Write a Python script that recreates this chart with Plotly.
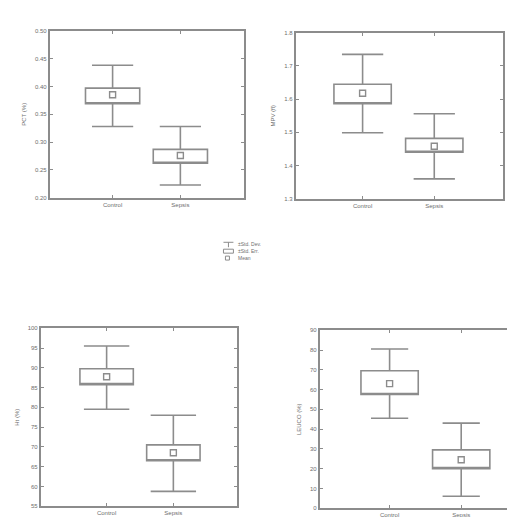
import plotly.graph_objects as go

groups = ["Control", "Sepsis"]

# Panel values: mean, +/- SE box, +/- SD whiskers
pct_mean = [0.385, 0.276]
pct_se_lo = [0.369, 0.262]
pct_se_hi = [0.397, 0.287]
pct_sd_lo = [0.328, 0.223]
pct_sd_hi = [0.438, 0.328]

mpv_mean = [1.618, 1.458]
mpv_se_lo = [1.586, 1.440]
mpv_se_hi = [1.645, 1.482]
mpv_sd_lo = [1.499, 1.360]
mpv_sd_hi = [1.735, 1.556]

ht_mean = [87.75, 68.5]
ht_se_lo = [85.75, 66.5]
ht_se_hi = [89.75, 70.5]
ht_sd_lo = [79.5, 58.75]
ht_sd_hi = [95.5, 78.0]

leu_mean = [63.0, 24.5]
leu_se_lo = [57.5, 20.0]
leu_se_hi = [69.5, 29.5]
leu_sd_lo = [45.5, 6.0]
leu_sd_hi = [80.5, 43.0]

y_titles = ["PCT (%)", "MPV (fl)", "Ht (%)", "LEUCO (%)"]
legend_labels = ["\u00b1Std. Dev.", "\u00b1Std. Err.", "Mean"]

LINE = "#8c8c8c"
TXT = "#6e6e6e"
FONT = "Liberation Sans"

panels = [
    dict(mean=pct_mean, lo=pct_se_lo, hi=pct_se_hi, sdlo=pct_sd_lo, sdhi=pct_sd_hi,
         xd=[42/515, 237/515], yd=[1-189/517, 1-20/517], xr=[-0.926, 1.94],
         yr=[0.20, 0.50], dt=0.05, fmt=".2f", ww=0.76),
    dict(mean=mpv_mean, lo=mpv_se_lo, hi=mpv_se_hi, sdlo=mpv_sd_lo, sdhi=mpv_sd_hi,
         xd=[289/515, 497/515], yd=[1-190/517, 1-22/517], xr=[-0.931, 1.96],
         yr=[1.3, 1.8], dt=0.1, fmt=".1f", ww=0.72),
    dict(mean=ht_mean, lo=ht_se_lo, hi=ht_se_hi, sdlo=ht_sd_lo, sdhi=ht_sd_hi,
         xd=[33/515, 230/515], yd=[1-501/517, 1-321/517], xr=[-0.985, 1.955],
         yr=[55, 100], dt=5, fmt="d", ww=0.85),
    dict(mean=leu_mean, lo=leu_se_lo, hi=leu_se_hi, sdlo=leu_sd_lo, sdhi=leu_sd_hi,
         xd=[313/515, 1.0], yd=[1-503/517, 1-323/517], xr=[-0.975, 1.835],
         yr=[0, 90], dt=10, fmt="d", ww=0.65),
]

fig = go.Figure()
layout = dict(
    width=515, height=517,
    margin=dict(l=0, r=0, t=0, b=0),
    paper_bgcolor="white", plot_bgcolor="white",
    showlegend=False,
    font=dict(family=FONT, size=6, color=TXT),
)

for i, p in enumerate(panels):
    n = "" if i == 0 else str(i + 1)
    xa, ya = "x" + n, "y" + n
    fig.add_trace(go.Box(
        x=groups, q1=p["lo"], median=p["lo"], q3=p["hi"],
        lowerfence=p["sdlo"], upperfence=p["sdhi"],
        width=0.8, whiskerwidth=p["ww"],
        fillcolor="white", line=dict(color=LINE, width=1.6),
        boxpoints=False, hoverinfo="skip",
        xaxis=xa, yaxis=ya,
    ))
    fig.add_trace(go.Scatter(
        x=groups, y=p["mean"], mode="markers",
        marker=dict(symbol="square-open", size=6, color=LINE, line=dict(width=1.4)),
        xaxis=xa, yaxis=ya, hoverinfo="skip",
    ))
    layout["xaxis" + n] = dict(
        domain=p["xd"], anchor=ya, range=p["xr"], type="category",
        showline=True, linecolor=LINE, linewidth=2, mirror="ticks",
        ticks="inside", ticklen=3, tickcolor=LINE, showgrid=False, zeroline=False,
        tickfont=dict(size=6, color=TXT, family=FONT),
    )
    layout["yaxis" + n] = dict(
        domain=p["yd"], anchor=xa, range=p["yr"], dtick=p["dt"], tick0=p["yr"][0],
        tickformat=p["fmt"],
        showline=True, linecolor=LINE, linewidth=2, mirror="ticks",
        ticks="inside", ticklen=3, tickcolor=LINE, showgrid=False, zeroline=False,
        tickfont=dict(size=6, color=TXT, family=FONT),
        title=dict(text=y_titles[i], font=dict(size=6, color=TXT, family=FONT), standoff=8),
    )

fig.update_layout(**layout)

# custom legend in the middle
lx, ly = 0.42, 1 - 236/517
dy = 7/517
shapes = []
shapes.append(dict(type="line", xref="paper", yref="paper", x0=lx, x1=lx + 10/515, y0=ly + 2/517, y1=ly + 2/517, line=dict(color=LINE, width=1)))
shapes.append(dict(type="line", xref="paper", yref="paper", x0=lx + 5/515, x1=lx + 5/515, y0=ly + 2/517, y1=ly - 3/517, line=dict(color=LINE, width=1)))
shapes.append(dict(type="rect", xref="paper", yref="paper", x0=lx, x1=lx + 10/515, y0=ly - dy - 2/517, y1=ly - dy + 2/517, line=dict(color=LINE, width=1), fillcolor="white"))
shapes.append(dict(type="rect", xref="paper", yref="paper", x0=lx + 2/515, x1=lx + 6/515, y0=ly - 2*dy - 2/517, y1=ly - 2*dy + 2/517, line=dict(color=LINE, width=1), fillcolor="white"))
fig.update_layout(shapes=shapes)
for k, lab in enumerate(legend_labels):
    fig.add_annotation(x=lx + 13/515, y=ly - k*dy, xref="paper", yref="paper",
                       text=lab, showarrow=False, xanchor="left", yanchor="middle",
                       font=dict(size=5, color=TXT, family=FONT))

fig.write_html("out.html")
